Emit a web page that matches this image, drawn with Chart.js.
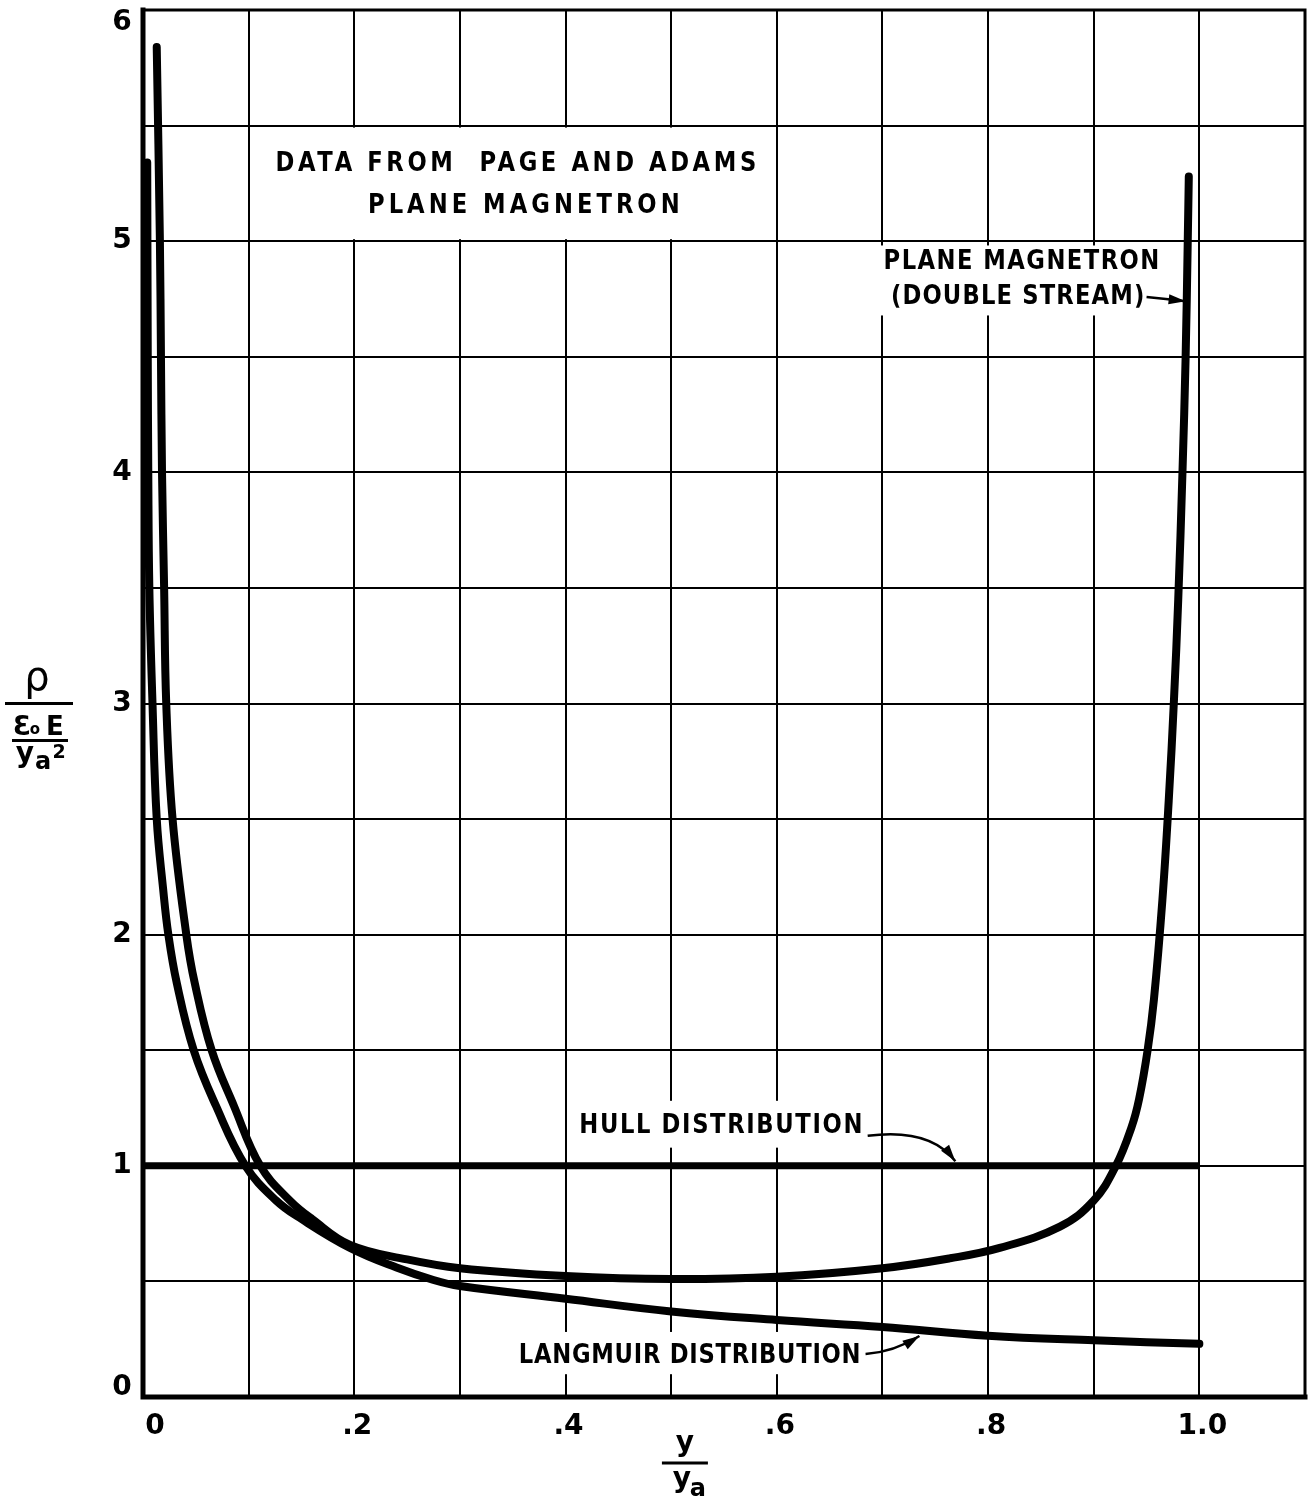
<!DOCTYPE html>
<html>
<head>
<meta charset="utf-8">
<title>Plane magnetron space charge</title>
<script src="https://cdn.jsdelivr.net/npm/chart.js@4.4.1/dist/chart.umd.min.js"></script>
<style>
  html, body { margin: 0; padding: 0; background: #fff; }
  #wrap { width: 1309px; height: 1502px; }
</style>
</head>
<body>
<div id="wrap"><canvas id="chart" width="1309" height="1502"></canvas></div>
<script>
// y/ya against normalised charge density
const xLangmuir = [0.004, 0.0045, 0.005, 0.006, 0.009, 0.013, 0.019, 0.024, 0.032, 0.048, 0.069, 0.097, 0.126, 0.15, 0.196, 0.24, 0.275, 0.3, 0.4, 0.5, 0.6, 0.7, 0.8, 0.9, 1.0];
const yLangmuir = [5.34, 4.5, 4.0, 3.5, 3.0, 2.5, 2.2, 2.0, 1.79, 1.5, 1.26, 1.0, 0.85, 0.77, 0.645, 0.56, 0.506, 0.48, 0.425, 0.37, 0.333, 0.303, 0.265, 0.245, 0.23];

const xMagnetron = [0.013, 0.016, 0.017, 0.018, 0.020, 0.022, 0.028, 0.041, 0.049, 0.065, 0.086, 0.111, 0.139, 0.16, 0.196, 0.25, 0.3, 0.4, 0.5, 0.6, 0.7, 0.764, 0.811, 0.868, 0.9, 0.921, 0.936, 0.943, 0.951, 0.957, 0.965, 0.971, 0.976, 0.980, 0.984, 0.987, 0.989, 0.990];
const yMagnetron = [5.84, 5.0, 4.5, 4.0, 3.5, 3.0, 2.5, 2.0, 1.79, 1.5, 1.26, 1.0, 0.85, 0.77, 0.658, 0.595, 0.557, 0.523, 0.51, 0.52, 0.557, 0.60, 0.645, 0.737, 0.85, 1.0, 1.17, 1.29, 1.5, 1.72, 2.15, 2.58, 3.02, 3.45, 4.0, 4.5, 5.0, 5.28];

const xHull = [0, 1.0];
const yHull = [1, 1];

const xTickValues = [0, 0.2, 0.4, 0.6, 0.8, 1.0];
const xTickLabels = ['0', '.2', '.4', '.6', '.8', '1.0'];
const yTickValues = [0, 1, 2, 3, 4, 5, 6];
const yTickLabels = ['0', '1', '2', '3', '4', '5', '6'];

const toPoints = (xs, ys) => xs.map((x, i) => ({ x: x, y: ys[i] }));

const INK = '#000';
const LETTER = 'bold 27px "DejaVu Sans"';
const SQUEEZE = 0.84; // lettering is narrower than DejaVu

// lettering, placed in data units: centre x, centre y, width
const notes = [
  { text: 'DATA FROM  PAGE AND ADAMS', x: 0.353, y: 5.34, w: 0.455 },
  { text: 'PLANE MAGNETRON', x: 0.3605, y: 5.156, w: 0.295 },
  { text: 'PLANE MAGNETRON', x: 0.8316, y: 4.913, w: 0.261 },
  { text: '(DOUBLE STREAM)', x: 0.828, y: 4.762, w: 0.240 },
  { text: 'HULL DISTRIBUTION', x: 0.547, y: 1.177, w: 0.268 },
  { text: 'LANGMUIR DISTRIBUTION', x: 0.5175, y: 0.182, w: 0.3236 }
];

// white patches that break the grid behind the lettering (x0, x1, y0, y1)
const blanks = [
  [0.1, 0.6, 5.0, 5.5],
  [0.692, 0.967, 4.67, 4.99],
  [0.409, 0.686, 1.07, 1.29],
  [0.355, 0.70, 0.09, 0.29]
];

// leader arrows: start, control, tip
const arrows = [
  { from: [0.686, 1.13], ctrl: [0.745, 1.165], to: [0.769, 1.02] },
  { from: [0.684, 0.186], ctrl: [0.711, 0.195], to: [0.735, 0.264] },
  { from: [0.950, 4.758], ctrl: [0.968, 4.75], to: [0.987, 4.74] }
];

function fitText(ctx, text, cx, cy, w) {
  ctx.save();
  ctx.letterSpacing = '0px';
  const natural = ctx.measureText(text).width * SQUEEZE;
  const ls = (w - natural) / (text.length - 1);
  ctx.translate(cx - w / 2, cy);
  ctx.scale(SQUEEZE, 1);
  ctx.letterSpacing = (ls / SQUEEZE) + 'px';
  ctx.textAlign = 'left';
  ctx.fillText(text, 0, 0);
  ctx.restore();
}

function drawArrow(ctx, p0, p1, p2) {
  ctx.beginPath();
  ctx.moveTo(p0[0], p0[1]);
  ctx.quadraticCurveTo(p1[0], p1[1], p2[0], p2[1]);
  ctx.lineWidth = 2.5;
  ctx.stroke();
  const ang = Math.atan2(p2[1] - p1[1], p2[0] - p1[0]);
  const len = 17, half = 5;
  ctx.beginPath();
  ctx.moveTo(p2[0], p2[1]);
  ctx.lineTo(p2[0] - len * Math.cos(ang) + half * Math.sin(ang), p2[1] - len * Math.sin(ang) - half * Math.cos(ang));
  ctx.lineTo(p2[0] - len * Math.cos(ang) - half * Math.sin(ang), p2[1] - len * Math.sin(ang) + half * Math.cos(ang));
  ctx.closePath();
  ctx.fill();
}

const sheetPlugin = {
  id: 'sheet',
  beforeDatasetsDraw(chart) {
    const { ctx, scales: { x, y } } = chart;
    ctx.save();
    ctx.fillStyle = '#fff';
    blanks.forEach(b => {
      const l = x.getPixelForValue(b[0]) + 2, r = x.getPixelForValue(b[1]) - 2;
      const t = y.getPixelForValue(b[3]) + 2, btm = y.getPixelForValue(b[2]) - 2;
      ctx.fillRect(l, t, r - l, btm - t);
    });
    ctx.restore();
  },
  afterDraw(chart) {
    const { ctx, chartArea: a, scales: { x, y } } = chart;
    ctx.save();
    ctx.fillStyle = INK;
    ctx.strokeStyle = INK;

    // frame: heavy left and bottom, light top and right
    ctx.lineCap = 'square';
    ctx.lineWidth = 3;
    ctx.beginPath();
    ctx.moveTo(a.left, a.top); ctx.lineTo(a.right, a.top); ctx.lineTo(a.right, a.bottom);
    ctx.stroke();
    ctx.lineWidth = 5;
    ctx.beginPath();
    ctx.moveTo(a.left, a.top); ctx.lineTo(a.left, a.bottom); ctx.lineTo(a.right, a.bottom);
    ctx.stroke();
    ctx.lineCap = 'butt';

    // tick labels
    ctx.font = 'bold 28px "DejaVu Sans"';
    ctx.textBaseline = 'middle';
    ctx.textAlign = 'center';
    yTickValues.forEach((v, i) => {
      const py = Math.min(Math.max(y.getPixelForValue(v), a.top + 13), a.bottom - 9);
      ctx.fillText(yTickLabels[i], 122, py);
    });
    xTickValues.forEach((v, i) => {
      const px = Math.max(x.getPixelForValue(v), a.left + 9);
      ctx.fillText(xTickLabels[i], px + 3, a.bottom + 30);
    });

    // y title: rho over (eps0 E / ya^2)
    const L = y.getPixelForValue(3);
    ctx.textAlign = 'center';
    ctx.textBaseline = 'alphabetic';
    ctx.font = '40px "DejaVu Sans"';
    ctx.fillText('ρ', 37, L - 14);
    ctx.lineWidth = 3;
    ctx.beginPath(); ctx.moveTo(5, L); ctx.lineTo(73, L); ctx.stroke();
    ctx.font = 'bold 26px "DejaVu Sans"';
    ctx.fillText('Ɛ', 22, L + 31);
    ctx.font = 'bold 15px "DejaVu Sans"';
    ctx.fillText('o', 35, L + 30);
    ctx.font = 'bold 26px "DejaVu Sans"';
    ctx.fillText('E', 55, L + 31);
    ctx.beginPath(); ctx.moveTo(12, L + 37); ctx.lineTo(68, L + 37); ctx.stroke();
    ctx.font = 'bold 28px "DejaVu Sans"';
    ctx.fillText('y', 25, L + 58);
    ctx.font = 'bold 24px "DejaVu Sans"';
    ctx.fillText('a', 43, L + 65);
    ctx.font = 'bold 19px "DejaVu Sans"';
    ctx.fillText('2', 59, L + 54);

    // x title: y over ya
    const cx = x.getPixelForValue(0.513);
    const by = a.bottom + 66;
    ctx.font = 'bold 28px "DejaVu Sans"';
    ctx.fillText('y', cx, by - 12);
    ctx.lineWidth = 3;
    ctx.beginPath(); ctx.moveTo(cx - 23, by); ctx.lineTo(cx + 23, by); ctx.stroke();
    ctx.fillText('y', cx - 3, by + 24);
    ctx.font = 'bold 24px "DejaVu Sans"';
    ctx.fillText('a', cx + 13, by + 33);

    // lettering
    ctx.font = LETTER;
    ctx.textBaseline = 'middle';
    notes.forEach(n => {
      const px = x.getPixelForValue(n.x);
      const w = x.getPixelForValue(n.x + n.w / 2) - x.getPixelForValue(n.x - n.w / 2);
      fitText(ctx, n.text, px, y.getPixelForValue(n.y) + 1, w);
    });

    // leaders
    const P = p => [x.getPixelForValue(p[0]), y.getPixelForValue(p[1])];
    arrows.forEach(ar => drawArrow(ctx, P(ar.from), P(ar.ctrl), P(ar.to)));
    ctx.restore();
  }
};

const curveStyle = {
  borderColor: INK,
  borderWidth: 8,
  borderCapStyle: 'round',
  borderJoinStyle: 'round',
  pointRadius: 0,
  fill: false,
  tension: 0.4
};

new Chart(document.getElementById('chart'), {
  type: 'line',
  data: {
    datasets: [
      Object.assign({ label: 'Langmuir distribution', data: toPoints(xLangmuir, yLangmuir) }, curveStyle),
      Object.assign({ label: 'Plane magnetron (double stream)', data: toPoints(xMagnetron, yMagnetron) }, curveStyle),
      Object.assign({ label: 'Hull distribution', data: toPoints(xHull, yHull) }, curveStyle, { borderWidth: 7, borderCapStyle: 'butt', tension: 0 })
    ]
  },
  options: {
    responsive: false,
    animation: false,
    devicePixelRatio: 1,
    layout: { padding: { left: 143, top: 10, right: 4, bottom: 105 } },
    plugins: { legend: { display: false }, tooltip: { enabled: false } },
    scales: {
      x: {
        type: 'linear', min: 0, max: 1.1,
        border: { display: false },
        grid: { color: INK, lineWidth: 2, drawTicks: false },
        ticks: { display: false, stepSize: 0.1 }
      },
      y: {
        type: 'linear', min: 0, max: 6,
        border: { display: false },
        grid: { color: INK, lineWidth: 2, drawTicks: false },
        ticks: { display: false, stepSize: 0.5 }
      }
    }
  },
  plugins: [sheetPlugin]
});
</script>
</body>
</html>
